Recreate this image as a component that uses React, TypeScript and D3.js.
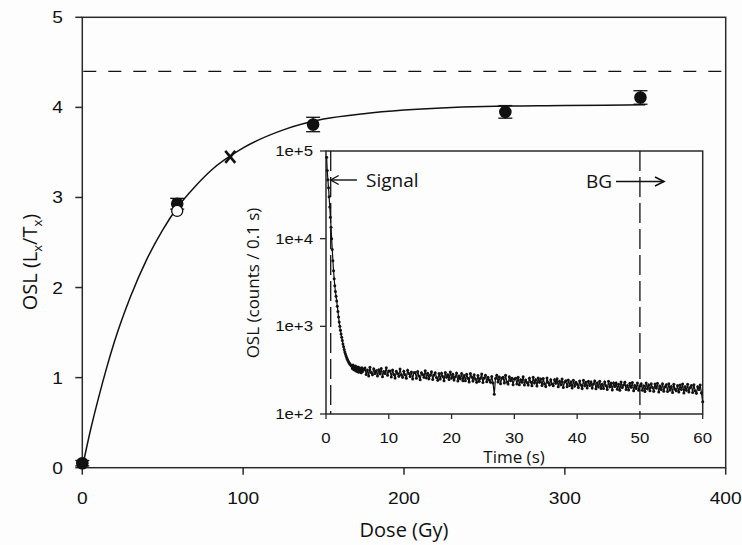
import React from 'react';
import * as d3 from 'd3';

// ---------- Main dose-response data ----------
const doseTicks = [0, 100, 200, 300, 400];
const oslTicks = [0, 1, 2, 3, 4, 5];
const filledDose = [0, 59, 143.5, 263, 347];
const filledOsl = [0.05, 2.93, 3.81, 3.95, 4.11];
const filledErr = [0.03, 0.06, 0.08, 0.07, 0.075];
const openDose = [59];
const openOsl = [2.85];
const crossDose = [92];
const crossOsl = [3.45];
const saturationLevel = 4.4;
const fitDose = [0, 5, 10, 15, 20, 30, 40, 50, 60, 70, 80, 100, 125, 150, 175, 200, 250, 300, 350];
const fitOsl = [0.0, 0.41, 0.77, 1.1, 1.4, 1.9, 2.31, 2.64, 2.91, 3.12, 3.3, 3.55, 3.75, 3.87, 3.93, 3.97, 4.01, 4.02, 4.03];

// ---------- Inset decay curve ----------
const timeTicks = [0, 10, 20, 30, 40, 50, 60];
const countTicks = [1e2, 1e3, 1e4, 1e5];
const countTickLabels = ['1e+2', '1e+3', '1e+4', '1e+5'];
const signalLimit = 0.75;
const bgStart = 50;
// 0.1 s channels, 0.1 .. 6.0 s
const earlyCounts = [
  85000, 60000, 47000, 38000, 30000, 23000, 17500, 13500, 10000, 7500,
  5600, 4300, 3500, 2900, 2500, 2200, 1950, 1700, 1480, 1280,
  1120, 1000, 900, 820, 750, 690, 630, 585, 545, 510,
  482, 458, 438, 420, 405, 392, 381, 372, 364, 357,
  350, 330, 362, 322, 348, 316, 352, 310, 340, 306,
  344, 300, 338, 312, 330, 296, 336, 304, 326, 318,
];
// 0.2 s steps, 6.2 .. 60.0 s
const lateCounts = [
  335, 282, 318, 271, 342, 298, 280, 328, 290, 312,
  272, 320, 288, 330, 266, 305, 290, 338, 276, 310,
  310, 265, 318, 282, 258, 308, 290, 270, 326, 280,
  262, 308, 280, 255, 315, 290, 268, 302, 250, 296,
  298, 256, 306, 272, 246, 296, 282, 262, 312, 258,
  292, 252, 276, 304, 248, 278, 296, 260, 242, 290,
  250, 292, 268, 240, 298, 262, 280, 248, 302, 258,
  284, 244, 266, 294, 238, 272, 252, 290, 240, 275,
  240, 284, 256, 232, 290, 264, 238, 280, 250, 230,
  274, 236, 256, 286, 228, 258, 276, 234, 262, 244,
  230, 268, 226, 168, 254, 276, 232, 264, 222, 256,
  262, 226, 276, 232, 220, 266, 240, 256, 216, 250,
  256, 220, 262, 216, 246, 230, 266, 214, 244, 228,
  214, 256, 232, 210, 262, 226, 246, 208, 258, 230,
  250, 212, 254, 222, 206, 258, 228, 214, 246, 220,
  210, 246, 224, 252, 204, 236, 216, 250, 200, 232,
  240, 204, 244, 212, 232, 198, 242, 208, 230, 218,
  200, 238, 214, 196, 242, 210, 230, 198, 236, 212,
  232, 198, 220, 238, 194, 226, 204, 236, 196, 218,
  196, 232, 210, 190, 236, 204, 224, 188, 226, 206,
  226, 192, 218, 186, 232, 200, 214, 230, 190, 212,
  188, 224, 202, 228, 184, 212, 196, 226, 186, 210,
  222, 186, 210, 180, 226, 194, 214, 184, 222, 200,
  182, 220, 198, 224, 178, 208, 190, 222, 182, 204,
  216, 180, 222, 188, 206, 176, 218, 192, 184, 212,
  178, 214, 190, 220, 174, 204, 186, 218, 178, 200,
  212, 176, 216, 184, 172, 204, 190, 214, 174, 138,
];

const ARIAL = '"Liberation Sans", Arial, sans-serif';
const HUMAN = '"Open Sans", "Noto Sans", sans-serif';
const AX = '#2a2a2a';

type TP = {
  x: number; y: number; size: number; family: string; anchor?: string;
  stretch?: number; rotate?: number; baseline?: string; children: React.ReactNode;
};
const T = ({ x, y, size, family, anchor = 'middle', stretch = 1, rotate = 0, baseline, children }: TP) => (
  <text
    transform={`translate(${x},${y}) scale(${stretch},1)${rotate ? ` rotate(${rotate})` : ''}`}
    textAnchor={anchor}
    fontSize={size}
    fontFamily={family}
    dominantBaseline={baseline}
    fill="#111"
  >
    {children}
  </text>
);

export default function App() {
  const W = 742, H = 545;
  const x = d3.scaleLinear().domain([0, 400]).range([82.3, 725.7]);
  const y = d3.scaleLinear().domain([0, 5]).range([467.7, 17.3]);

  const ix = d3.scaleLinear().domain([0, 60]).range([326, 702.7]);
  const iy = d3.scaleLog().domain([1e2, 1e5]).range([414, 151]);

  const fitLine = d3.line<number>().x((_, i) => x(fitDose[i])).y((d) => y(d)).curve(d3.curveMonotoneX);

  const earlyT = d3.range(earlyCounts.length).map((i) => 0.1 * (i + 1));
  const lateT = d3.range(lateCounts.length).map((i) => 6.2 + 0.2 * i);
  const decay = [
    ...earlyCounts.map((c, i) => [earlyT[i], c] as [number, number]),
    ...lateCounts.map((c, i) => [lateT[i], c] as [number, number]),
  ];
  const decayLine = d3.line<[number, number]>().x((d) => ix(d[0])).y((d) => iy(Math.min(d[1], 1e5)));

  const [x0, x1] = x.range();
  const [y0, y1] = y.range();
  const [ix0, ix1] = ix.range();
  const [iy0, iy1] = iy.range();

  return (
    <svg width={W} height={H} style={{ position: 'absolute', left: 0, top: 0, background: '#fff' }}>
      <rect width={W} height={H} fill="#fdfdfd" />
      {/* main frame */}
      <rect x={x0} y={y1} width={x1 - x0} height={y0 - y1} fill="none" stroke={AX} strokeWidth={1.5} />
      {doseTicks.map((t) => (
        <g key={'xt' + t}>
          <line x1={x(t)} x2={x(t)} y1={y0} y2={y0 + 7} stroke={AX} strokeWidth={1.5} />
          <T x={x(t)} y={504} size={16} family={ARIAL} stretch={1.2}>{t}</T>
        </g>
      ))}
      {oslTicks.map((t) => (
        <g key={'yt' + t}>
          <line x1={x0 - 7} x2={x0} y1={y(t)} y2={y(t)} stroke={AX} strokeWidth={1.5} />
          <T x={63} y={y(t) + 6} size={16} family={ARIAL} stretch={1.2} anchor="end">{t}</T>
        </g>
      ))}
      <T x={404} y={537} size={20} family={HUMAN}>Dose (Gy)</T>
      <T x={37} y={262} size={20} family={HUMAN} rotate={-90}>
        OSL (L<tspan fontSize={13} dy={5}>x</tspan><tspan dy={-5}>/T</tspan><tspan fontSize={13} dy={5}>x</tspan><tspan dy={-5}>)</tspan>
      </T>

      {/* saturation level */}
      <line x1={x0} x2={x1} y1={y(saturationLevel)} y2={y(saturationLevel)} stroke="#111" strokeWidth={1.4} strokeDasharray="13,12" strokeDashoffset={-1} />

      {/* fitted curve */}
      <path d={fitLine(fitOsl) || ''} fill="none" stroke="#111" strokeWidth={1.5} />

      {/* inset */}
      <rect x={ix0} y={iy1} width={ix1 - ix0} height={iy0 - iy1} fill="#fdfdfd" stroke={AX} strokeWidth={1.5} />
      {timeTicks.map((t) => (
        <g key={'it' + t}>
          <line x1={ix(t)} x2={ix(t)} y1={iy0} y2={iy0 + 5} stroke={AX} strokeWidth={1.3} />
          <T x={ix(t)} y={443} size={14} family={ARIAL} stretch={1.2}>{t}</T>
        </g>
      ))}
      {countTicks.map((t, i) => (
        <g key={'ic' + t}>
          <line x1={ix0 - 6} x2={ix0} y1={iy(t)} y2={iy(t)} stroke={AX} strokeWidth={1.3} />
          <T x={313} y={iy(t) + 5} size={14} family={ARIAL} stretch={1.2} anchor="end">{countTickLabels[i]}</T>
        </g>
      ))}
      <T x={514} y={463} size={17} family={HUMAN}>Time (s)</T>
      <T x={259} y={283} size={17} family={HUMAN} rotate={-90}>OSL (counts / 0.1 s)</T>

      <path d={decayLine(decay) || ''} fill="none" stroke="#111" strokeWidth={1.2} />
      {decay.map((d, i) => (
        <circle key={'dp' + i} cx={ix(d[0])} cy={iy(Math.min(d[1], 1e5))} r={1.5} fill="#111" />
      ))}

      <line x1={ix(signalLimit)} x2={ix(signalLimit)} y1={iy1} y2={iy0} stroke="#111" strokeWidth={1.3} strokeDasharray="20,6" />
      <line x1={ix(bgStart)} x2={ix(bgStart)} y1={iy1} y2={iy0} stroke="#111" strokeWidth={1.3} strokeDasharray="20,6" />

      {/* Signal annotation */}
      <line x1={ix(signalLimit)} x2={357} y1={180} y2={180} stroke="#111" strokeWidth={1.4} />
      <path d={`M${ix(signalLimit) + 8},175.5 L${ix(signalLimit)},180 L${ix(signalLimit) + 8},184.5`} fill="none" stroke="#111" strokeWidth={1.4} />
      <T x={366} y={187} size={19} family={HUMAN} anchor="start">Signal</T>
      {/* BG annotation */}
      <T x={586} y={188} size={19} family={HUMAN} anchor="start">BG</T>
      <line x1={616} x2={664} y1={181.5} y2={181.5} stroke="#111" strokeWidth={1.4} />
      <path d="M655,177 L664,181.5 L655,186" fill="none" stroke="#111" strokeWidth={1.6} />

      {/* error bars */}
      {filledDose.map((d, i) => (
        <g key={'eb' + i} stroke="#111" strokeWidth={1.3}>
          <line x1={x(d)} x2={x(d)} y1={y(filledOsl[i] - filledErr[i])} y2={y(filledOsl[i] + filledErr[i])} />
          <line x1={x(d) - 7} x2={x(d) + 7} y1={y(filledOsl[i] - filledErr[i])} y2={y(filledOsl[i] - filledErr[i])} />
          <line x1={x(d) - 7} x2={x(d) + 7} y1={y(filledOsl[i] + filledErr[i])} y2={y(filledOsl[i] + filledErr[i])} />
        </g>
      ))}
      {filledDose.map((d, i) => (
        <circle key={'fp' + i} cx={x(d)} cy={y(filledOsl[i])} r={6.3} fill="#111" />
      ))}
      {openDose.map((d, i) => (
        <circle key={'op' + i} cx={x(d)} cy={y(openOsl[i])} r={5.5} fill="#fff" stroke="#111" strokeWidth={1.3} />
      ))}
      {crossDose.map((d, i) => (
        <g key={'cx' + i} stroke="#111" strokeWidth={2.6}>
          <line x1={x(d) - 5} x2={x(d) + 5} y1={y(crossOsl[i]) - 6} y2={y(crossOsl[i]) + 6} />
          <line x1={x(d) - 5} x2={x(d) + 5} y1={y(crossOsl[i]) + 6} y2={y(crossOsl[i]) - 6} />
        </g>
      ))}
    </svg>
  );
}
